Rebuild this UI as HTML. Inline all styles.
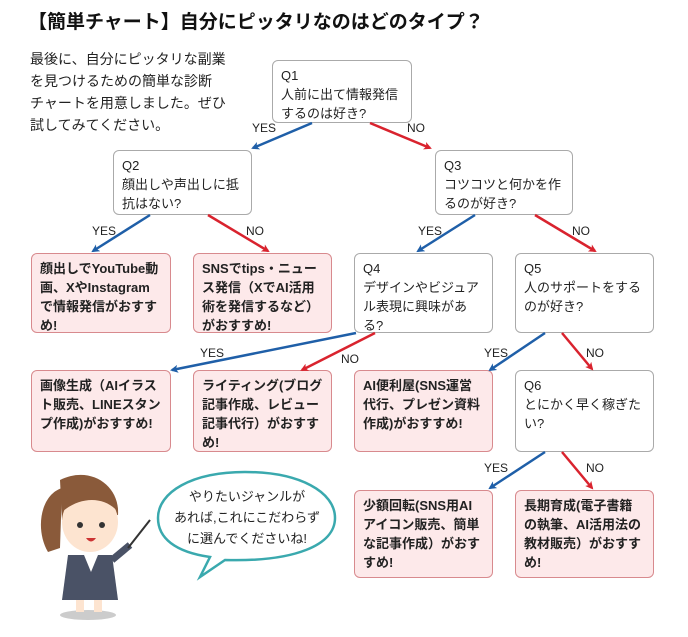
<!DOCTYPE html>
<html><head><meta charset="utf-8"><style>
body{margin:0;width:688px;height:637px;background:#fff;position:relative;overflow:hidden;font-family:"Liberation Sans","Noto Sans CJK JP",sans-serif;color:#222}
.t{position:absolute;left:28px;top:7px;font-size:19px;font-weight:bold;color:#111}
.intro{position:absolute;left:30px;top:48px;font-size:14px;line-height:22px}
.b{position:absolute;box-sizing:border-box;border-radius:6px;padding:5px 8px 0;font-size:13px;line-height:19px;white-space:nowrap;overflow:hidden;color:#222}
.w{background:#fff;border:1.5px solid #aaa}
.p{background:#fde9ea;border:1.5px solid #d88a8e;font-weight:bold}
.l{position:absolute;font-size:12px;color:#222}
svg{position:absolute;left:0;top:0}
</style></head><body>
<div class="t">【簡単チャート】自分にピッタリなのはどのタイプ？</div>
<div class="intro">最後に、自分にピッタリな副業<br>を見つけるための簡単な診断<br>チャートを用意しました。ぜひ<br>試してみてください。</div>

<div class="b w" style="left:272px;top:60px;width:140px;height:63px">Q1<br>人前に出て情報発信<br>するのは好き?</div>
<div class="b w" style="left:113px;top:150px;width:139px;height:65px">Q2<br>顔出しや声出しに抵<br>抗はない?</div>
<div class="b w" style="left:435px;top:150px;width:138px;height:65px">Q3<br>コツコツと何かを作<br>るのが好き?</div>

<div class="b p" style="left:31px;top:253px;width:140px;height:80px">顔出しでYouTube動<br>画、XやInstagram<br>で情報発信がおすす<br>め!</div>
<div class="b p" style="left:193px;top:253px;width:139px;height:80px">SNSでtips・ニュー<br>ス発信（XでAI活用<br>術を発信するなど）<br>がおすすめ!</div>
<div class="b w" style="left:354px;top:253px;width:139px;height:80px">Q4<br>デザインやビジュア<br>ル表現に興味があ<br>る?</div>
<div class="b w" style="left:515px;top:253px;width:139px;height:80px">Q5<br>人のサポートをする<br>のが好き?</div>

<div class="b p" style="left:31px;top:370px;width:140px;height:82px">画像生成（AIイラス<br>ト販売、LINEスタン<br>プ作成)がおすすめ!</div>
<div class="b p" style="left:193px;top:370px;width:139px;height:82px">ライティング(ブログ<br>記事作成、レビュー<br>記事代行）がおすす<br>め!</div>
<div class="b p" style="left:354px;top:370px;width:139px;height:82px">AI便利屋(SNS運営<br>代行、プレゼン資料<br>作成)がおすすめ!</div>
<div class="b w" style="left:515px;top:370px;width:139px;height:82px">Q6<br>とにかく早く稼ぎた<br>い?</div>

<div class="b p" style="left:354px;top:490px;width:139px;height:88px">少額回転(SNS用AI<br>アイコン販売、簡単<br>な記事作成）がおす<br>すめ!</div>
<div class="b p" style="left:515px;top:490px;width:139px;height:88px">長期育成(電子書籍<br>の執筆、AI活用法の<br>教材販売）がおすす<br>め!</div>

<svg width="688" height="637">
<defs>
<marker id="bl" markerWidth="8" markerHeight="8" refX="6" refY="4" orient="auto" markerUnits="userSpaceOnUse"><path d="M0,0 L8,4 L0,8 L2,4z" fill="#1f5fa8"/></marker>
<marker id="rd" markerWidth="8" markerHeight="8" refX="6" refY="4" orient="auto" markerUnits="userSpaceOnUse"><path d="M0,0 L8,4 L0,8 L2,4z" fill="#d9232e"/></marker>
</defs>
<g stroke-width="2.5" fill="none">
<line x1="312" y1="123" x2="253" y2="148" stroke="#1f5fa8" marker-end="url(#bl)"/>
<line x1="370" y1="123" x2="430" y2="148" stroke="#d9232e" marker-end="url(#rd)"/>
<line x1="150" y1="215" x2="93" y2="251" stroke="#1f5fa8" marker-end="url(#bl)"/>
<line x1="208" y1="215" x2="268" y2="251" stroke="#d9232e" marker-end="url(#rd)"/>
<line x1="475" y1="215" x2="418" y2="251" stroke="#1f5fa8" marker-end="url(#bl)"/>
<line x1="535" y1="215" x2="595" y2="251" stroke="#d9232e" marker-end="url(#rd)"/>
<line x1="356" y1="333" x2="172" y2="370" stroke="#1f5fa8" marker-end="url(#bl)"/>
<line x1="375" y1="333" x2="302" y2="370" stroke="#d9232e" marker-end="url(#rd)"/>
<line x1="545" y1="333" x2="490" y2="370" stroke="#1f5fa8" marker-end="url(#bl)"/>
<line x1="562" y1="333" x2="592" y2="369" stroke="#d9232e" marker-end="url(#rd)"/>
<line x1="545" y1="452" x2="490" y2="488" stroke="#1f5fa8" marker-end="url(#bl)"/>
<line x1="562" y1="452" x2="592" y2="488" stroke="#d9232e" marker-end="url(#rd)"/>
</g>
<path d="M245,472 C300,472 335,492 335,518 C335,545 295,562 225,560 L200,577 L210,557 C175,552 158,538 158,518 C158,492 192,472 245,472Z" fill="#fff" stroke="#3aa9ae" stroke-width="2.5"/>
<ellipse cx="88" cy="615" rx="28" ry="5" fill="#ccc"/>
<path d="M62,488 C40,495 35,530 48,552 L60,548 Z" fill="#8a5a3a"/>
<path d="M60,480 C90,465 120,485 118,515 L62,520 Z" fill="#8a5a3a"/>
<ellipse cx="90" cy="522" rx="28" ry="30" fill="#fde4d0"/>
<path d="M62,512 C65,478 118,478 118,512 C105,496 80,496 62,512Z" fill="#8a5a3a"/>
<circle cx="80" cy="525" r="3" fill="#333"/><circle cx="102" cy="525" r="3" fill="#333"/>
<path d="M86,538 Q91,545 96,538Z" fill="#c33"/>
<path d="M68,555 L112,555 L118,600 L62,600 Z" fill="#4a5266"/>
<path d="M84,555 L91,572 L98,555Z" fill="#fff"/>
<line x1="112" y1="560" x2="130" y2="545" stroke="#4a5266" stroke-width="7"/>
<line x1="128" y1="548" x2="150" y2="520" stroke="#333" stroke-width="2"/>
<rect x="76" y="600" width="8" height="12" fill="#fde4d0"/><rect x="94" y="600" width="8" height="12" fill="#fde4d0"/>
</svg>
<div style="position:absolute;left:163px;top:486px;width:168px;text-align:center;font-size:13px;line-height:21px">やりたいジャンルが<br>あれば,これにこだわらず<br>に選んでくださいね!</div>

<div class="l" style="left:252px;top:121px">YES</div>
<div class="l" style="left:407px;top:121px">NO</div>
<div class="l" style="left:92px;top:224px">YES</div>
<div class="l" style="left:246px;top:224px">NO</div>
<div class="l" style="left:418px;top:224px">YES</div>
<div class="l" style="left:572px;top:224px">NO</div>
<div class="l" style="left:200px;top:346px">YES</div>
<div class="l" style="left:341px;top:352px">NO</div>
<div class="l" style="left:484px;top:346px">YES</div>
<div class="l" style="left:586px;top:346px">NO</div>
<div class="l" style="left:484px;top:461px">YES</div>
<div class="l" style="left:586px;top:461px">NO</div>
</body></html>
